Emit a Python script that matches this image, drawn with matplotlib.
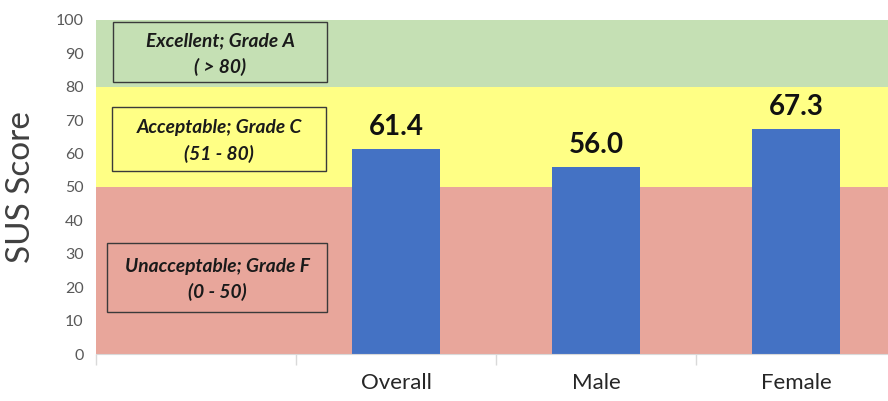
import numpy as np
import matplotlib
matplotlib.use("Agg")
import matplotlib.pyplot as plt
from matplotlib.patches import Rectangle

# SUS scores per group
groups = ["Overall", "Male", "Female"]
scores = [61.4, 56.0, 67.3]

# grade bands: (low, high)
band_lows = [0, 50, 80]
band_highs = [50, 80, 100]
band_colors = ["#e8a69b", "#ffff85", "#c5e0b4"]
band_texts = ["Unacceptable; Grade F\n(0 - 50)",
              "Acceptable; Grade C\n(51 - 80)",
              "Excellent; Grade A\n( > 80)"]

plt.rcParams["font.family"] = ["Lato", "DejaVu Sans"]

fig = plt.figure(figsize=(8.88, 4.01), dpi=100)
ax = fig.add_axes([0.1081, 0.1172, 0.9009, 0.833])

# coloured grade bands behind the bars
for lo, hi, col in zip(band_lows, band_highs, band_colors):
    ax.axhspan(lo, hi, color=col, zorder=0, lw=0)

# boxes with the grade description (x0, x1, y0, y1 in data units)
box_extents = [(-0.445, 0.655, 12.6, 33.2),
               (-0.42, 0.65, 54.8, 74.0),
               (-0.415, 0.655, 81.4, 99.4)]
for (x0, x1, y0, y1), col, txt in zip(box_extents, band_colors, band_texts):
    ax.add_patch(Rectangle((x0, y0), x1 - x0, y1 - y0, facecolor=col,
                           edgecolor="#3a3a3a", lw=1.0, zorder=2))
    ax.text((x0 + x1) / 2, (y0 + y1) / 2 - 0.6, txt, ha="center", va="center",
            fontsize=13.8, fontweight="bold", fontstyle="italic",
            color="#1a1a1a", linespacing=1.55, zorder=3)

x = np.arange(1, len(groups) + 1)
bars = ax.bar(x, scores, width=0.44, color="#4472c4", zorder=2)
for xi, s in zip(x, scores):
    ax.annotate(f"{s:.1f}", (xi, s), xytext=(0, 10), textcoords="offset points",
                ha="center", va="baseline", fontsize=20, fontweight="bold",
                color="#111111")

ax.set_xlim(-0.5, len(groups) + 0.5)
ax.set_ylim(0, 100)
ax.set_yticks(range(0, 101, 10))
ax.tick_params(axis="y", length=0, pad=9, labelsize=11.5, labelcolor="#595959")

ax.set_xticks(x)
ax.set_xticklabels(groups, fontsize=16, color="#262626")
ax.tick_params(axis="x", which="major", length=0, pad=14)
ax.set_xticks(np.arange(-0.5, len(groups) + 1), minor=True)
ax.tick_params(axis="x", which="minor", length=8, color="#d9d9d9", width=1)

for side in ["left", "right", "top"]:
    ax.spines[side].set_visible(False)
ax.spines["bottom"].set_color("#d9d9d9")

ax.set_ylabel("SUS Score", fontsize=24, color="#404040")
ax.yaxis.set_label_coords(-0.075, 0.5)

fig.savefig("out.png", dpi=100)
